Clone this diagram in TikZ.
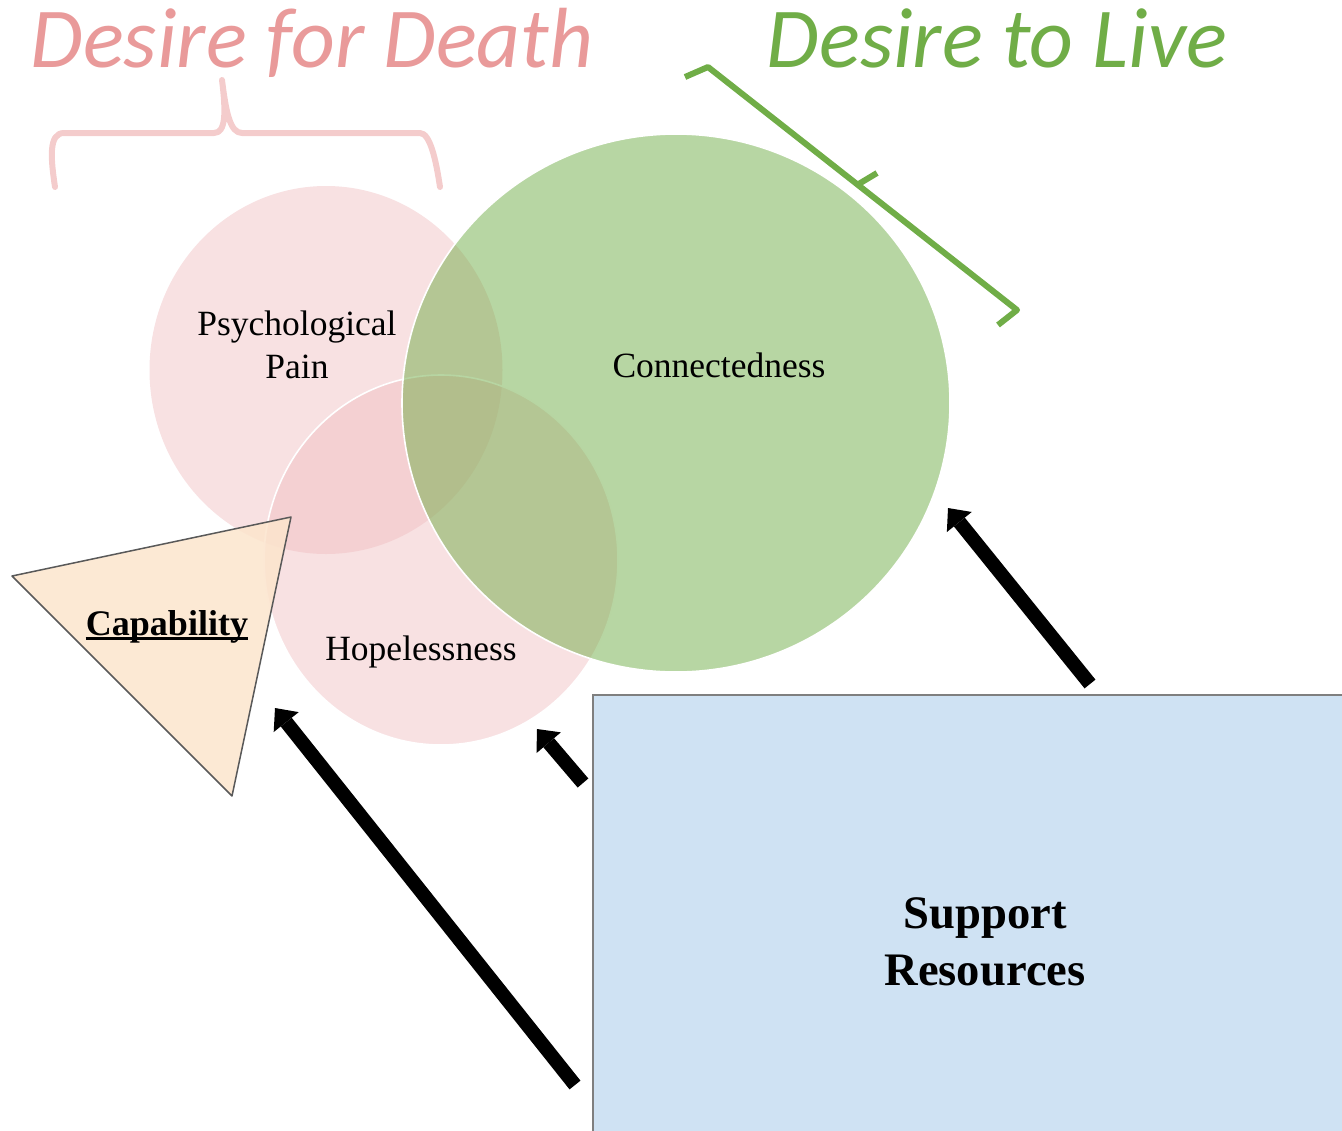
\documentclass[tikz,border=0pt]{standalone}
\usepackage{fontspec}
\setmainfont{Liberation Serif}
\newfontfamily\calib{Carlito}
\usetikzlibrary{arrows.meta}
\definecolor{titlepink}{HTML}{E99A9A}
\definecolor{bracepink}{HTML}{F4CCCC}
\definecolor{titlegreen}{HTML}{70AD47}
\definecolor{circpink}{HTML}{EFBCBF}
\definecolor{circgreen}{HTML}{70AD47}
\definecolor{trifill}{HTML}{FCE5CD}
\definecolor{trieedge}{HTML}{595959}
\definecolor{boxfill}{HTML}{CFE2F3}
\definecolor{boxedge}{HTML}{7F7F7F}
\begin{document}
\begin{tikzpicture}[x=0.5pt,y=-0.5pt,
  pinkcirc/.style={fill=circpink, fill opacity=0.45},
  greencirc/.style={fill=circgreen, fill opacity=0.5},
  whiteedge/.style={draw=white, line width=0.8pt, draw opacity=1},
  pinkbrace/.style={draw=bracepink, line width=3pt, line cap=round, line join=round},
  greenbrace/.style={draw=titlegreen, line width=3pt, line join=round},
  titletext/.style={inner sep=0pt, anchor=base, font=\calib\itshape\fontsize{42.7}{50}\selectfont},
  lbl/.style={inner sep=0pt, anchor=base, font=\fontsize{17.75}{21}\selectfont},
  boldlbl/.style={inner sep=0pt, anchor=base, font=\bfseries\fontsize{23.3}{27}\selectfont},
  bigarrow/.style={line width=7pt, -{Triangle[length=9pt,width=16pt,line width=0pt]}}
]
\path[use as bounding box] (0,0) rectangle (1342,1130);
\clip (0,0) rectangle (1342,1130);

% titles
\node[titletext, text=titlepink] (tdeath) at (312,67) {Desire for Death};
\node[titletext, text=titlegreen] (tlive) at (997,67) {Desire to Live};

% braces
\draw[pinkbrace] (55,187) .. controls (51,160) and (48,133) .. (64,133)
  -- (214,133) .. controls (226,133) and (226,112) .. (222,80)
  .. controls (226,112) and (230,133) .. (242,133)
  -- (420,133) .. controls (430,133) and (436,160) .. (440,187);
\draw[greenbrace] (685,77) -- (708,67) -- (1017,310) -- (998,325);
\draw[greenbrace] (857,185) -- (877,173);

% circles
\path[pinkcirc] (326,370) ellipse [x radius=88.25pt, y radius=92pt];
\path[pinkcirc, whiteedge] (441,560) ellipse [x radius=88.5pt, y radius=92.5pt];
\path[greencirc, whiteedge] (676,403) ellipse [x radius=137pt, y radius=134.5pt];

% triangle
\filldraw[fill=trifill, fill opacity=0.85, draw=trieedge, line width=0.75pt, line join=round]
  (12,576) -- (291,517) -- (232,796) -- cycle;

% support box
\filldraw[fill=boxfill, draw=boxedge, line width=1pt] (593,695) rectangle (1360,1150);

% labels
\node[lbl] (psy1) at (297,335) {Psychological};
\node[lbl] (psy2) at (297,378) {Pain};
\node[lbl] (conn) at (719,377) {Connectedness};
\node[lbl] (hope) at (421,660) {Hopelessness};
\node[inner sep=0pt, anchor=base, font=\bfseries\fontsize{18}{21}\selectfont] (cap) at (167,635) {Capability};
\draw[line width=1.4pt] ([yshift=-1.8pt]cap.base west) -- ([yshift=-1.8pt]cap.base east);
\node[boldlbl] (sup1) at (985,928) {Support};
\node[boldlbl] (sup2) at (985,985) {Resources};

% arrows
\coordinate (a1t) at (1090,684);
\coordinate (a1h) at (948,508);
\coordinate (a2t) at (583,783);
\coordinate (a2h) at (537,729);
\coordinate (a3t) at (575,1085);
\coordinate (a3h) at (275,708);
\draw[bigarrow] (a1t) -- (a1h);
\draw[bigarrow] (a2t) -- (a2h);
\draw[bigarrow] (a3t) -- (a3h);
\end{tikzpicture}
\end{document}
